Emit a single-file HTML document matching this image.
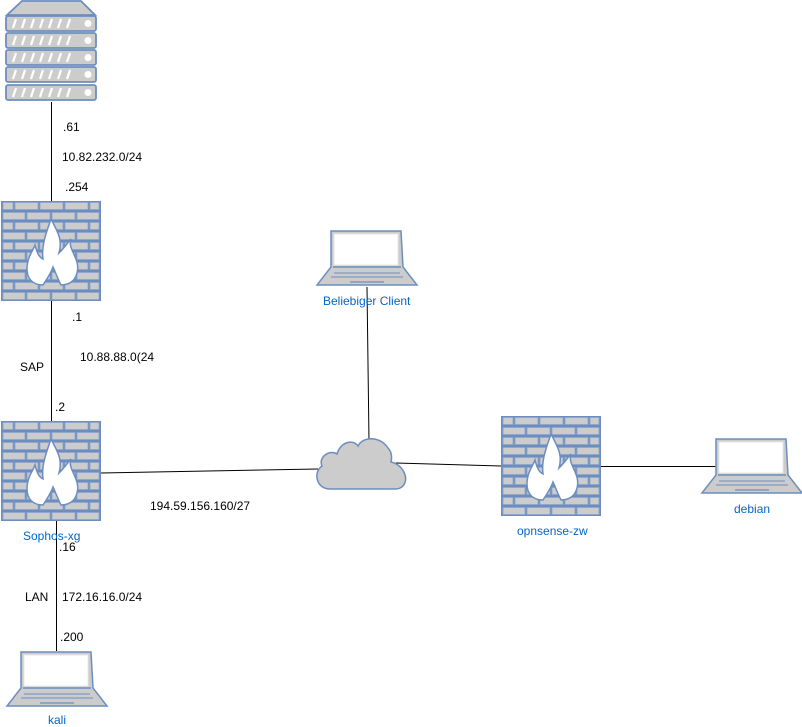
<!DOCTYPE html>
<html><head><meta charset="utf-8"><style>
html,body{margin:0;padding:0;background:#fff;}
svg{display:block;}
text{font-family:"Liberation Sans",sans-serif;font-size:12px;}
.b{fill:#0066cc;}
</style></head><body>
<svg width="802" height="727" viewBox="0 0 802 727" xmlns="http://www.w3.org/2000/svg">
<defs>
<g id="fw">
<rect x="0" y="0" width="100" height="100" fill="#6c8ebf"/>
<g fill="#cccccc" stroke="#8fa6cc" stroke-width="0.8">
<rect x="2" y="1.5" width="10" height="7"/><rect x="14" y="1.5" width="23" height="7"/><rect x="39" y="1.5" width="23" height="7"/><rect x="64" y="1.5" width="23" height="7"/><rect x="89" y="1.5" width="9" height="7"/>
<rect x="2" y="11.5" width="22" height="7"/><rect x="26" y="11.5" width="23" height="7"/><rect x="51" y="11.5" width="23" height="7"/><rect x="76" y="11.5" width="22" height="7"/>
<rect x="2" y="21.5" width="10" height="7"/><rect x="14" y="21.5" width="23" height="7"/><rect x="39" y="21.5" width="23" height="7"/><rect x="64" y="21.5" width="23" height="7"/><rect x="89" y="21.5" width="9" height="7"/>
<rect x="2" y="31.5" width="22" height="7"/><rect x="26" y="31.5" width="23" height="7"/><rect x="51" y="31.5" width="23" height="7"/><rect x="76" y="31.5" width="22" height="7"/>
<rect x="2" y="41.5" width="10" height="7"/><rect x="14" y="41.5" width="23" height="7"/><rect x="39" y="41.5" width="23" height="7"/><rect x="64" y="41.5" width="23" height="7"/><rect x="89" y="41.5" width="9" height="7"/>
<rect x="2" y="51.5" width="22" height="7"/><rect x="26" y="51.5" width="23" height="7"/><rect x="51" y="51.5" width="23" height="7"/><rect x="76" y="51.5" width="22" height="7"/>
<rect x="2" y="61.5" width="10" height="7"/><rect x="14" y="61.5" width="23" height="7"/><rect x="39" y="61.5" width="23" height="7"/><rect x="64" y="61.5" width="23" height="7"/><rect x="89" y="61.5" width="9" height="7"/>
<rect x="2" y="71.5" width="22" height="7"/><rect x="26" y="71.5" width="23" height="7"/><rect x="51" y="71.5" width="23" height="7"/><rect x="76" y="71.5" width="22" height="7"/>
<rect x="2" y="81.5" width="10" height="7"/><rect x="14" y="81.5" width="23" height="7"/><rect x="39" y="81.5" width="23" height="7"/><rect x="64" y="81.5" width="23" height="7"/><rect x="89" y="81.5" width="9" height="7"/>
<rect x="2" y="91.5" width="22" height="7"/><rect x="26" y="91.5" width="23" height="7"/><rect x="51" y="91.5" width="23" height="7"/><rect x="76" y="91.5" width="22" height="7"/>
</g>
<path d="M50,18 C56,30 62,38 58,52 C64,46 68,40 70,38 C66,48 80,58 76,72 C74,80 68,84 60,84 C56,76 54,70 52,66 C50,72 46,78 42,84 C32,84 26,78 26,68 C26,56 32,50 34,44 C36,52 38,56 42,58 C40,44 46,30 50,18 Z" fill="#fff" stroke="#6c8ebf" stroke-width="1.5"/>
</g>
<g id="lap">
<path d="M14,0 L84,0 L86,36 L100,54 L0,54 L14,36 Z" fill="#cccccc" stroke="#6c8ebf" stroke-width="1.5"/>
<rect x="17" y="3" width="64" height="31" fill="#fff" stroke="#e8e8e8" stroke-width="1"/>
<line x1="16" y1="36" x2="84" y2="36" stroke="#6c8ebf" stroke-width="1.5"/>
<line x1="17" y1="42" x2="83" y2="42" stroke="#6c8ebf" stroke-width="1"/>
<line x1="14" y1="46" x2="86" y2="46" stroke="#6c8ebf" stroke-width="1"/>
<line x1="33" y1="51" x2="67" y2="51" stroke="#6c8ebf" stroke-width="1.2"/>
</g>
<g id="unit">
<rect x="0" y="0" width="90" height="15" rx="2" fill="#cccccc" stroke="#6c8ebf" stroke-width="1.8"/>
<g stroke="#fff" stroke-width="2.2"><line x1="7" y1="12" x2="10" y2="3"/><line x1="16" y1="12" x2="19" y2="3"/><line x1="25" y1="12" x2="28" y2="3"/><line x1="34" y1="12" x2="37" y2="3"/><line x1="43" y1="12" x2="46" y2="3"/><line x1="52" y1="12" x2="55" y2="3"/><line x1="61" y1="12" x2="64" y2="3"/></g>
<circle cx="82" cy="7.5" r="3.5" fill="#fff"/>
</g>
</defs>
<g stroke="#000" stroke-width="1" fill="none">
<line x1="51.5" y1="102" x2="51.5" y2="201"/>
<line x1="51.5" y1="301" x2="51.5" y2="421"/>
<line x1="101" y1="473" x2="318" y2="469"/>
<line x1="367" y1="287" x2="369" y2="441"/>
<line x1="396" y1="463" x2="501" y2="466"/>
<line x1="601" y1="466.5" x2="716" y2="466.5"/>
<line x1="56.5" y1="521" x2="56.5" y2="651"/>
</g>
<!-- server -->
<path d="M7,15 L22,1 L81,1 L95,15 Z" fill="#cccccc" stroke="#6c8ebf" stroke-width="1.8"/>
<use href="#unit" x="6" y="16"/><use href="#unit" x="6" y="33"/><use href="#unit" x="6" y="50"/><use href="#unit" x="6" y="67"/><use href="#unit" x="6" y="85"/>
<use href="#fw" x="1" y="201"/>
<use href="#fw" x="1" y="421"/>
<use href="#fw" x="501" y="416"/>
<use href="#lap" x="317" y="231"/>
<use href="#lap" x="702" y="439"/>
<use href="#lap" x="7" y="652"/>
<!-- cloud -->
<path d="M330,489 C316,489 313,472 322,466 C318,457 330,449 337,454 C340,443 352,438 358,446 C363,436 380,436 388,448 C392,452 392,458 391,462 C402,464 410,478 403,486 C401,488 398,489 395,489 Z" fill="#cccccc" stroke="#6c8ebf" stroke-width="1.5"/>
<text x="63" y="131">.61</text>
<text x="62" y="161">10.82.232.0/24</text>
<text x="65" y="191">.254</text>
<text x="72" y="321">.1</text>
<text x="20" y="371">SAP</text>
<text x="80" y="361">10.88.88.0(24</text>
<text x="55" y="411">.2</text>
<text x="150" y="510">194.59.156.160/27</text>
<text class="b" x="23" y="540">Sophos-xg</text>
<text x="59" y="551">.16</text>
<text x="25" y="601">LAN</text>
<text x="62" y="601">172.16.16.0/24</text>
<text x="60" y="641">.200</text>
<text class="b" x="48" y="724">kali</text>
<text class="b" x="323" y="305">Beliebiger Client</text>
<text class="b" x="517" y="535">opnsense-zw</text>
<text class="b" x="734" y="513">debian</text>
</svg>
</body></html>
